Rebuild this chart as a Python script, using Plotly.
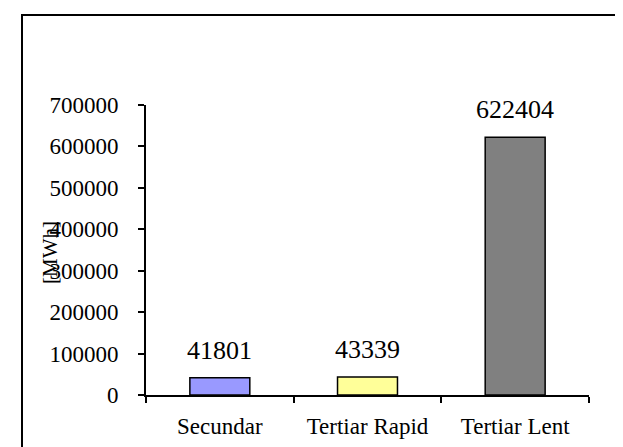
import plotly.graph_objects as go

categories = ["Secundar", "Tertiar Rapid", "Tertiar Lent"]
values = [41801, 43339, 622404]
bar_colors = ["#9999FF", "#FFFF99", "#808080"]
y_ticks = [0, 100000, 200000, 300000, 400000, 500000, 600000, 700000]
y_title = "[MWh]"

W, H = 623, 447
L, R, T, B = 138, 42, 97, 60
pw, ph = W - L - R, H - T - B

FAM = "Liberation Serif, Times New Roman, DejaVu Serif, serif"
tick_font = dict(family=FAM, size=23, color="black")
value_font = dict(family=FAM, size=26, color="black")
title_font = dict(family=FAM, size=21, color="black")

fig = go.Figure()
fig.add_trace(go.Bar(
    x=categories, y=values,
    marker=dict(color=bar_colors, line=dict(color="black", width=1.5)),
    width=0.406,
))

for c, v in zip(categories, values):
    fig.add_annotation(x=c, y=v, text=str(v), showarrow=False,
                       yanchor="bottom", yshift=11, font=value_font)

fig.add_annotation(xref="paper", yref="paper",
                   x=(42 - L) / pw, y=(387 - 245) / ph,
                   text=y_title, textangle=-90, showarrow=False,
                   xanchor="center", yanchor="middle", font=title_font)

# outer frame (right and bottom edges fall outside the picture)
fig.add_shape(type="rect", xref="paper", yref="paper",
              x0=(14 - L) / pw, x1=(640 - L) / pw,
              y0=(387 - 460) / ph, y1=(387 - 7) / ph,
              line=dict(color="black", width=2))

fig.update_layout(
    width=W, height=H,
    margin=dict(l=L, r=R, t=T, b=B),
    paper_bgcolor="white", plot_bgcolor="white",
    showlegend=False, font=tick_font,
    xaxis=dict(showline=True, linecolor="black", linewidth=2,
               ticks="outside", tickson="boundaries", ticklen=6, tickwidth=1.5,
               tickcolor="black", showgrid=False, tickfont=tick_font,
               ticklabelstandoff=9),
    yaxis=dict(range=[0, 700000], tickvals=y_ticks,
               ticktext=[str(t) for t in y_ticks],
               showline=True, linecolor="black", linewidth=2,
               ticks="outside", ticklen=6, tickwidth=1.5, tickcolor="black",
               showgrid=False, zeroline=False, tickfont=tick_font,
               ticklabelstandoff=15),
)

fig.write_html("out.html")
